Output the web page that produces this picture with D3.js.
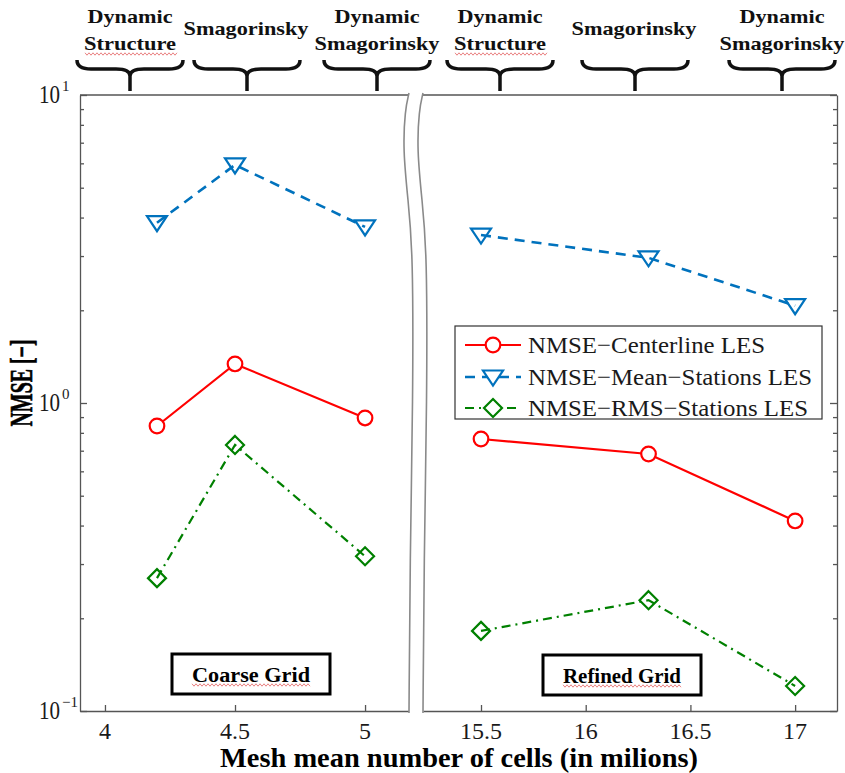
<!DOCTYPE html>
<html>
<head>
<meta charset="utf-8">
<script src="https://cdn.jsdelivr.net/npm/d3@7"></script>
<style>
  body { margin: 0; background: #fff; }
  svg { display: block; font-family: "Liberation Serif", "Times New Roman", serif; }
</style>
</head>
<body>
<svg id="chart" width="845" height="773"></svg>
<script>
// mesh sizes (millions of cells) for each grid
const coarseMesh = [4.2, 4.5, 5.0];
const refinedMesh = [15.5, 16.3, 17.0];

// NMSE values
const centerlineCoarse = [0.842, 1.339, 0.894];
const centerlineRefined = [0.764, 0.683, 0.414];
const meanStationsCoarse = [3.85, 5.93, 3.73];
const meanStationsRefined = [3.51, 2.96, 2.07];
const rmsStationsCoarse = [0.270, 0.731, 0.318];
const rmsStationsRefined = [0.182, 0.229, 0.1206];

const seriesNames = ['NMSE\u2212Centerline LES', 'NMSE\u2212Mean\u2212Stations LES', 'NMSE\u2212RMS\u2212Stations LES'];
const coarseTicks = [4, 4.5, 5];
const refinedTicks = [15.5, 16, 16.5, 17];
const coarseTickLabels = ['4', '4.5', '5'];
const refinedTickLabels = ['15.5', '16', '16.5', '17'];
const yMajorTicks = [0.1, 1, 10];
const yTickExponents = ['\u22121', '0', '1'];
const modelNames = [['Dynamic', 'Structure'], ['Smagorinsky'], ['Dynamic', 'Smagorinsky'],
                    ['Dynamic', 'Structure'], ['Smagorinsky'], ['Dynamic', 'Smagorinsky']];
const gridNames = ['Coarse Grid', 'Refined Grid'];

const svg = d3.select('#chart');

// layout
const plotTop = 95, plotBottom = 711, plotLeft = 80, plotRight = 837;
const breakL = 409, breakR = 423;

const xCoarse = d3.scaleLinear().domain([3.904, 5.169]).range([plotLeft, breakL]);
const xRefined = d3.scaleLinear().domain([15.223, 17.2]).range([breakR, plotRight]);
const y = d3.scaleLog().domain([0.1, 10]).range([plotBottom, plotTop]);

const minorTicks = [];
[0.1, 1].forEach(base => { for (let k = 2; k <= 9; k++) minorTicks.push(base * k); });

const axisColor = '#555';

// frame
const frame = svg.append('g').attr('stroke', axisColor).attr('stroke-width', 1.3).attr('fill', 'none');
frame.append('line').attr('x1', plotLeft).attr('x2', breakL).attr('y1', plotTop).attr('y2', plotTop);
frame.append('line').attr('x1', breakR).attr('x2', plotRight).attr('y1', plotTop).attr('y2', plotTop);

// bottom axes (ticks point inward)
[[xCoarse, coarseTicks], [xRefined, refinedTicks]].forEach(([sc, ticks]) => {
  const g = svg.append('g').attr('transform', `translate(0,${plotBottom})`)
    .call(d3.axisBottom(sc).tickValues(ticks).tickSizeInner(-6).tickSizeOuter(0).tickFormat(''));
  g.selectAll('path, line').attr('stroke', axisColor).attr('stroke-width', 1.3);
});

// y axes on both sides
function yAxes(axisFn, xPos) {
  const major = svg.append('g').attr('transform', `translate(${xPos},0)`)
    .call(axisFn(y).tickValues(yMajorTicks).tickSizeInner(-7).tickSizeOuter(0).tickFormat(''));
  major.selectAll('path, line').attr('stroke', axisColor).attr('stroke-width', 1.3);
  const minor = svg.append('g').attr('transform', `translate(${xPos},0)`)
    .call(axisFn(y).tickValues(minorTicks).tickSizeInner(-4).tickSizeOuter(0).tickFormat(''));
  minor.select('.domain').remove();
  minor.selectAll('line').attr('stroke', axisColor).attr('stroke-width', 1.3);
}
yAxes(d3.axisLeft, plotLeft);
yAxes(d3.axisRight, plotRight);

// x tick labels
const tickText = svg.append('g').attr('fill', '#1a1a1a').attr('font-size', 24).attr('text-anchor', 'middle');
coarseTicks.forEach((t, i) => tickText.append('text').attr('x', xCoarse(t)).attr('y', 739).text(coarseTickLabels[i]));
refinedTicks.forEach((t, i) => tickText.append('text').attr('x', xRefined(t)).attr('y', 739).text(refinedTickLabels[i]));

// y tick labels 10^n
yMajorTicks.forEach((t, i) => {
  const lbl = svg.append('text').attr('x', 39).attr('y', y(t) + 8).attr('fill', '#1a1a1a').attr('font-size', 25);
  lbl.append('tspan').attr('textLength', 21).attr('lengthAdjust', 'spacingAndGlyphs').text('10');
  lbl.append('tspan').attr('x', 62).attr('dy', -12).attr('font-size', 15).text(yTickExponents[i]);
});

// axis titles
svg.append('text').attr('x', 459).attr('y', 767).attr('text-anchor', 'middle')
  .attr('font-size', 28).attr('font-weight', 'bold')
  .attr('textLength', 478).attr('lengthAdjust', 'spacingAndGlyphs')
  .text('Mesh mean number of cells (in milions)');
svg.append('text').attr('transform', 'translate(32,383) rotate(-90)').attr('text-anchor', 'middle')
  .attr('font-size', 31).attr('font-weight', 'bold')
  .attr('stroke', '#000').attr('stroke-width', 0.6)
  .attr('textLength', 87).attr('lengthAdjust', 'spacingAndGlyphs')
  .text('NMSE [\u2212]');

// series
const markerTriangle = {
  draw(ctx) { ctx.moveTo(-10, -6.5); ctx.lineTo(10, -6.5); ctx.lineTo(0, 8.5); ctx.closePath(); }
};
const markerDiamond = {
  draw(ctx) { ctx.moveTo(0, -9); ctx.lineTo(9, 0); ctx.lineTo(0, 9); ctx.lineTo(-9, 0); ctx.closePath(); }
};

const series = [
  { coarse: centerlineCoarse, refined: centerlineRefined, color: '#ff0000', dash: null, width: 2.2,
    marker: d3.symbolCircle, size: Math.PI * 7.3 * 7.3, fill: '#fff' },
  { coarse: meanStationsCoarse, refined: meanStationsRefined, color: '#0072bd', dash: '10,7', width: 2.6,
    marker: markerTriangle, size: 64, fill: 'none' },
  { coarse: rmsStationsCoarse, refined: rmsStationsRefined, color: '#008000', dash: '9,5,2,5', width: 2.2,
    marker: markerDiamond, size: 64, fill: 'none' }
];

series.forEach(s => {
  [[xCoarse, coarseMesh, s.coarse], [xRefined, refinedMesh, s.refined]].forEach(([sc, mesh, vals]) => {
    const pts = mesh.map((m, i) => [m, vals[i]]);
    const line = d3.line().x(d => sc(d[0])).y(d => y(d[1]));
    svg.append('path').datum(pts)
      .attr('d', line).attr('fill', 'none')
      .attr('stroke', s.color).attr('stroke-width', s.width)
      .attr('stroke-dasharray', s.dash);
    svg.append('g').selectAll('path').data(pts).join('path')
      .attr('transform', d => `translate(${sc(d[0])},${y(d[1])})`)
      .attr('d', d3.symbol().type(s.marker).size(s.size))
      .attr('fill', s.fill).attr('stroke', s.color).attr('stroke-width', 2.2);
  });
});

// axis break
const breakLeftEdge = [[409, 93], [405, 110], [403, 150], [408, 200], [413, 250], [413, 400], [410, 560], [409, 713]];
const breakLine = d3.line().curve(d3.curveBasis);
const breakRightEdge = breakLeftEdge.map(p => [p[0] + 14, p[1]]);
svg.append('path')
  .attr('d', breakLine(breakLeftEdge) + 'L' + breakLine(breakRightEdge.slice().reverse()).slice(1) + 'Z')
  .attr('fill', '#fff').attr('stroke', 'none');
[breakLeftEdge, breakRightEdge].forEach(edge => {
  svg.append('path').attr('d', breakLine(edge)).attr('fill', 'none')
    .attr('stroke', '#8a8a8a').attr('stroke-width', 1.6);
});

// squiggly spell-check underline
function squiggle(x0, x1, yy) {
  const pts = [];
  for (let x = x0, k = 0; x <= x1; x += 2, k++) pts.push([x, yy + (k % 2 ? 1.2 : -1.2)]);
  svg.append('path').attr('d', d3.line()(pts)).attr('fill', 'none')
    .attr('stroke', '#e05050').attr('stroke-width', 0.9).attr('opacity', 0.8);
}

// model annotations with braces
const braceCenters = [130, 247, 377, 500, 635, 782];
const braceHalf = 53;
braceCenters.forEach((cx, i) => {
  const names = modelNames[i];
  const w = braceHalf;
  const d = `M${cx - w},60 Q${cx - w},69 ${cx - w + 14},69 L${cx - 14},69 Q${cx},69 ${cx},76 L${cx},91 ` +
            `M${cx + w},60 Q${cx + w},69 ${cx + w - 14},69 L${cx + 14},69 Q${cx},69 ${cx},76`;
  svg.append('path').attr('d', d).attr('fill', 'none').attr('stroke', '#111').attr('stroke-width', 3.5);

  const g = svg.append('g').attr('font-weight', 'bold').attr('font-size', 19).attr('text-anchor', 'middle').attr('fill', '#111');
  const lens = { 'Dynamic': 85, 'Structure': 92, 'Smagorinsky': 125 };
  if (names.length === 1) {
    g.append('text').attr('x', cx - 1).attr('y', 35).attr('textLength', lens[names[0]])
      .attr('lengthAdjust', 'spacingAndGlyphs').text(names[0]);
  } else {
    names.forEach((n, j) => {
      g.append('text').attr('x', cx).attr('y', 23 + j * 27).attr('textLength', lens[n])
        .attr('lengthAdjust', 'spacingAndGlyphs').text(n);
    });
    if (names[1] === 'Structure') squiggle(cx - 45, cx + 47, 54);
  }
});

// grid boxes
const gridBoxes = [[172, 654], [543, 655]];
gridBoxes.forEach(([bx, by], i) => {
  svg.append('rect').attr('x', bx).attr('y', by).attr('width', 158).attr('height', 40)
    .attr('fill', '#fff').attr('stroke', '#000').attr('stroke-width', 3);
  svg.append('text').attr('x', bx + 79).attr('y', by + 28).attr('text-anchor', 'middle')
    .attr('font-size', 20).attr('font-weight', 'bold')
    .attr('textLength', 118).attr('lengthAdjust', 'spacingAndGlyphs').text(gridNames[i]);
  squiggle(bx + 20, bx + 138, by + 31);
});

// legend
const legend = svg.append('g');
legend.append('rect').attr('x', 455).attr('y', 326).attr('width', 367).attr('height', 93)
  .attr('fill', '#fff').attr('stroke', '#333').attr('stroke-width', 1.2);
const rowY = [345, 377, 408];
const textLens = [237, 284, 280];
series.forEach((s, i) => {
  legend.append('line').attr('x1', 465).attr('x2', 521).attr('y1', rowY[i]).attr('y2', rowY[i])
    .attr('stroke', s.color).attr('stroke-width', s.width).attr('stroke-dasharray', s.dash);
  legend.append('path').attr('transform', `translate(493,${rowY[i]})`)
    .attr('d', d3.symbol().type(s.marker).size(s.size))
    .attr('fill', '#fff').attr('stroke', s.color).attr('stroke-width', 2.2);
  legend.append('text').attr('x', 528).attr('y', rowY[i] + 8).attr('font-size', 24).attr('fill', '#1a1a1a')
    .attr('textLength', textLens[i]).attr('lengthAdjust', 'spacingAndGlyphs').text(seriesNames[i]);
});
</script>
</body>
</html>
